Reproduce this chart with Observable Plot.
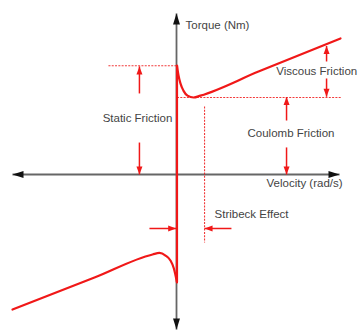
<!DOCTYPE html>
<html>
<head>
<meta charset="utf-8">
<script src="https://cdn.jsdelivr.net/npm/d3@7"></script>
<script src="https://cdn.jsdelivr.net/npm/@observablehq/plot@0.6"></script>
<style>
  html, body { margin: 0; padding: 0; background: #ffffff; }
  #chart { width: 362px; height: 330px; overflow: hidden; }
</style>
</head>
<body>
<div id="chart"></div>
<script>
// ---- Data (velocity in arbitrary units, torque in arbitrary units) ----
// Friction curve, positive-velocity branch
const upperV = [0.03, 0.12, 0.24, 0.43, 0.67, 1.04, 1.46, 5, 10];
const upperT = [8.0, 7.3, 6.7, 6.15, 5.8, 5.66, 5.8, 7.57, 10];
// Friction curve, negative-velocity branch
const lowerV = [-10, -5, -1.46, -1.04, -0.67, -0.37, -0.16, 0.03];
const lowerT = [-9.93, -7.58, -5.88, -5.77, -5.96, -6.32, -6.91, -7.94];
// Vertical jump at zero velocity
const stickV = [0.03];
const stickT1 = [8.0];
const stickT2 = [-7.94];

// Axis extents (tips)
const axisV = [-10.0, 9.94];
const axisT = [-11.4, 11.84];

// Annotation arrows (from -> to)
const arrowV1 = [-2.26, -2.26, 6.71, 6.71, 9.15, 9.15, -1.65, 3.35];
const arrowT1 = [5.96, 2.35, 3.97, 1.99, 8.31, 7.06, -3.97, -3.97];
const arrowV2 = [-2.26, -2.26, 6.71, 6.71, 9.15, 9.15, -0.02, 1.71];
const arrowT2 = [7.95, 0, 5.7, 0, 9.45, 5.72, -3.97, -3.97];

// Dashed guide lines
const guideV1 = [-4.15, 0.03, 1.71];
const guideT1 = [8.0, 5.66, 5.0];
const guideV2 = [0, 10.06, 1.71];
const guideT2 = [8.0, 5.66, -5.0];

// Labels
const centerLabels = ["Static Friction", "Coulomb Friction"];
const centerV = [-2.38, 6.98];
const centerT = [4.12, 3.0];
const startLabels = ["Torque (Nm)", "Velocity (rad/s)", "Viscous Friction", "Stribeck Effect"];
const startV = [0.55, 5.49, 6.08, 2.32];
const startT = [10.96, -0.66, 7.6, -2.94];

// ---- Build tables ----
const upper = upperV.map((v, i) => ({v, t: upperT[i]}));
const lower = lowerV.map((v, i) => ({v, t: lowerT[i]}));
const stick = stickV.map((v, i) => ({v, t1: stickT1[i], t2: stickT2[i]}));
const arrows = arrowV1.map((v, i) => ({v1: v, t1: arrowT1[i], v2: arrowV2[i], t2: arrowT2[i]}));
arrows.forEach(a => a.rot = Math.atan2(a.v2 - a.v1, a.t2 - a.t1) * 180 / Math.PI);
const axisArrows = [
  {v1: 0, t1: 0, v2: axisV[0], t2: 0},
  {v1: 0, t1: 0, v2: axisV[1], t2: 0},
  {v1: 0, t1: 0, v2: 0, t2: axisT[0]},
  {v1: 0, t1: 0, v2: 0, t2: axisT[1]}
];
axisArrows.forEach(a => a.rot = Math.atan2(a.v2 - a.v1, a.t2 - a.t1) * 180 / Math.PI);
const guides = guideV1.map((v, i) => ({v1: v, t1: guideT1[i], v2: guideV2[i], t2: guideT2[i]}));
const cLabels = centerLabels.map((s, i) => ({s, v: centerV[i], t: centerT[i]}));
const sLabels = startLabels.map((s, i) => ({s, v: startV[i], t: startT[i]}));

// Arrowhead symbol with its tip at the origin, pointing up
const head = (len, wid) => ({
  draw(ctx) {
    ctx.moveTo(0, 0);
    ctx.lineTo(-wid / 2, len);
    ctx.lineTo(wid / 2, len);
    ctx.closePath();
  }
});

const W = 362, H = 330;
const RED = "#f01818";
const TEXT = "#444444";

const chart = Plot.plot({
  width: W,
  height: H,
  marginTop: 0, marginRight: 0, marginBottom: 0, marginLeft: 0,
  x: {domain: [-176 / 16.4, 186 / 16.4], axis: null},
  y: {domain: [-156 / 13.6, 174 / 13.6], axis: null},
  style: {background: "#ffffff", fontFamily: "Liberation Sans, Arial, sans-serif"},
  marks: [
    // axes
    Plot.link(axisArrows, {x1: "v1", y1: "t1", x2: "v2", y2: "t2", stroke: "#666666", strokeWidth: 1.8}),
    Plot.dot(axisArrows, {x: "v2", y: "t2", rotate: "rot", r: 1, symbol: head(11, 7), fill: "#111111", stroke: "none"}),
    // dashed guides
    Plot.link(guides, {x1: "v1", y1: "t1", x2: "v2", y2: "t2", stroke: RED, strokeWidth: 1.1, strokeDasharray: "2,1.3", strokeOpacity: 0.85}),
    // friction curve
    Plot.ruleX(stick, {x: "v", y1: "t1", y2: "t2", stroke: RED, strokeWidth: 2.2}),
    Plot.line(upper, {x: "v", y: "t", curve: "monotone-x", stroke: RED, strokeWidth: 2.2}),
    Plot.line(lower, {x: "v", y: "t", curve: "monotone-x", stroke: RED, strokeWidth: 2.2}),
    // annotation arrows
    Plot.link(arrows, {x1: "v1", y1: "t1", x2: "v2", y2: "t2", stroke: RED, strokeWidth: 1.5}),
    Plot.dot(arrows, {x: "v2", y: "t2", rotate: "rot", r: 1, symbol: head(8, 6), fill: RED, stroke: "none"}),
    // labels
    Plot.text(cLabels, {x: "v", y: "t", text: "s", textAnchor: "middle", fontSize: 11.5, fill: TEXT}),
    Plot.text(sLabels, {x: "v", y: "t", text: "s", textAnchor: "start", fontSize: 11.5, fill: TEXT})
  ]
});
document.getElementById("chart").appendChild(chart);
</script>
</body>
</html>
